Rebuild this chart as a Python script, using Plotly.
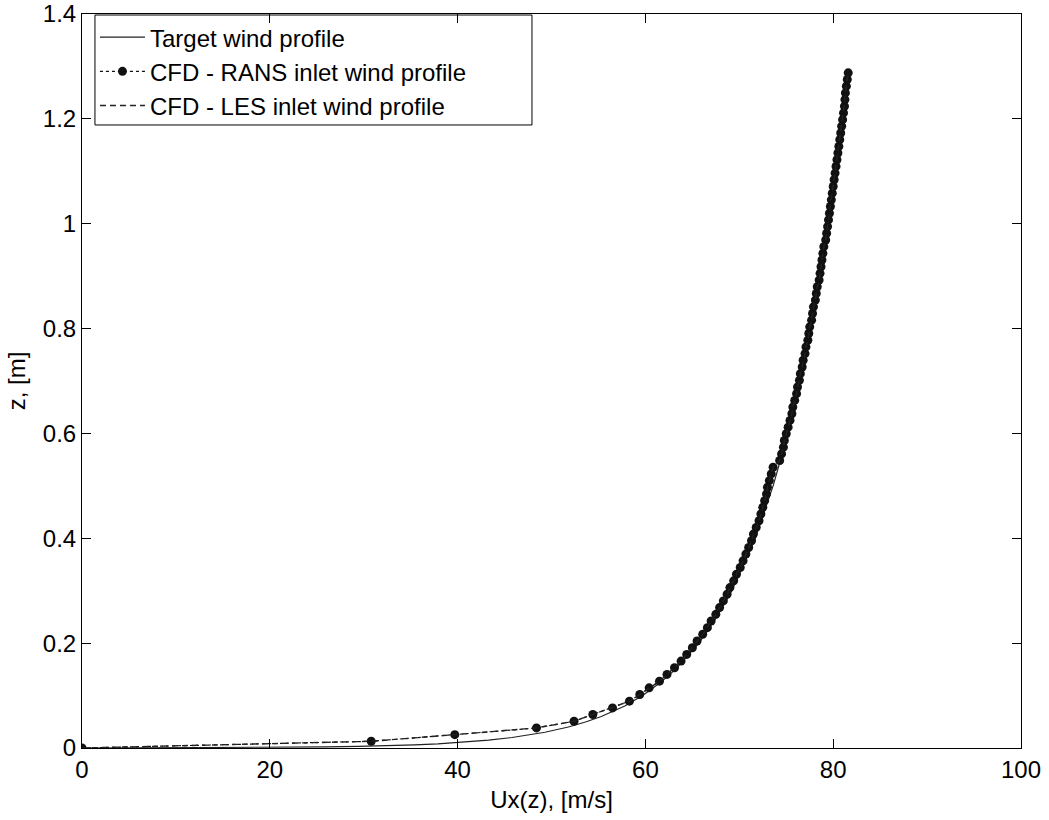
import plotly.graph_objects as go

# Target wind profile (solid line)
target_z = [0, 0.0002, 0.0005, 0.001, 0.002, 0.003, 0.004, 0.006, 0.008, 0.01, 0.015, 0.02,
            0.03, 0.04, 0.05, 0.06, 0.07, 0.08, 0.1, 0.125, 0.15, 0.2, 0.25, 0.3, 0.4, 0.5,
            0.6, 0.7, 0.8, 0.9, 1.0, 1.1, 1.2, 1.28]
target_u = [0, 6.0, 13.9, 19.9, 25.9, 29.4, 31.9, 35.4, 37.9, 39.8, 43.3, 45.8,
            49.3, 51.8, 53.7, 55.3, 56.6, 57.8, 59.7, 61.6, 63.2, 65.7, 67.6, 69.2, 71.7, 73.6,
            75.2, 76.5, 77.6, 78.7, 79.6, 80.4, 81.2, 81.7]

# CFD - RANS inlet wind profile (dots)
rans_z = [0, 0.0128, 0.0255, 0.0383, 0.051, 0.0638, 0.0765, 0.0893, 0.102, 0.1148,
          0.1275, 0.1403, 0.153, 0.1658, 0.1785, 0.1913, 0.204, 0.2168, 0.2295, 0.2423,
          0.255, 0.2678, 0.2805, 0.2933, 0.306, 0.3188, 0.3315, 0.3443, 0.357, 0.3698,
          0.3825, 0.3953, 0.408, 0.4208, 0.4335, 0.4463, 0.459, 0.4718, 0.4845, 0.4973,
          0.51, 0.5228, 0.5355, 0.5483, 0.561, 0.5738, 0.5865, 0.5993, 0.612, 0.6248,
          0.6375, 0.6503, 0.663, 0.6758, 0.6885, 0.7013, 0.714, 0.7268, 0.7395, 0.7523,
          0.765, 0.7778, 0.7905, 0.8033, 0.816, 0.8288, 0.8415, 0.8543, 0.867, 0.8798,
          0.8925, 0.9053, 0.918, 0.9308, 0.9435, 0.9563, 0.969, 0.9818, 0.9945, 1.0073,
          1.02, 1.0328, 1.0455, 1.0583, 1.071, 1.0838, 1.0965, 1.1093, 1.122, 1.1348,
          1.1475, 1.1603, 1.173, 1.1858, 1.1985, 1.2113, 1.224, 1.2368, 1.2495, 1.2623,
          1.275, 1.2878]
rans_u = [0, 30.8, 39.7, 48.4, 52.4, 54.4, 56.5, 58.3, 59.4, 60.4,
          61.5, 62.3, 63.1, 63.8, 64.4, 65.0, 65.5, 66.1, 66.6, 67.0,
          67.5, 67.9, 68.3, 68.7, 69.0, 69.4, 69.7, 70.1, 70.4, 70.7,
          71.0, 71.3, 71.5, 71.8, 72.1, 72.3, 72.5, 72.7, 72.9, 73.0,
          73.2, 73.4, 73.6, 74.3, 74.5, 74.7, 74.8, 75.0, 75.2, 75.4,
          75.6, 75.7, 75.9, 76.1, 76.2, 76.4, 76.5, 76.7, 76.8, 77.0,
          77.1, 77.3, 77.4, 77.5, 77.7, 77.8, 77.9, 78.1, 78.2, 78.3,
          78.5, 78.6, 78.7, 78.8, 78.9, 79.0, 79.2, 79.3, 79.4, 79.5,
          79.6, 79.7, 79.8, 79.9, 80.0, 80.1, 80.2, 80.3, 80.4, 80.5,
          80.6, 80.7, 80.8, 80.9, 81.0, 81.1, 81.2, 81.25, 81.3, 81.4,
          81.5, 81.6]

# CFD - LES inlet wind profile (dashed line)
les_z = rans_z
les_u = rans_u

x_ticks = [0, 20, 40, 60, 80, 100]
y_ticks = [0, 0.2, 0.4, 0.6, 0.8, 1.0, 1.2, 1.4]
y_tick_text = ["0", "0.2", "0.4", "0.6", "0.8", "1", "1.2", "1.4"]

FONT = "Liberation Sans"

fig = go.Figure()
fig.add_trace(go.Scatter(x=target_u, y=target_z, mode="lines",
                         name="Target wind profile",
                         line=dict(color="#222222", width=1.2)))
fig.add_trace(go.Scatter(x=rans_u, y=rans_z, mode="lines+markers",
                         name="CFD - RANS inlet wind profile",
                         line=dict(color="#111111", width=1.2, dash="dot"),
                         marker=dict(color="#111111", size=9, line=dict(width=0))))
fig.add_trace(go.Scatter(x=les_u, y=les_z, mode="lines",
                         name="CFD - LES inlet wind profile",
                         line=dict(color="#222222", width=1.4, dash="6px,4px")))

axis_common = dict(showline=True, linecolor="black", linewidth=1, mirror="ticks",
                   ticks="inside", ticklen=9, tickwidth=1, tickcolor="black",
                   showgrid=False, zeroline=False, automargin=False,
                   ticklabeloverflow="allow",
                   tickfont=dict(family=FONT, size=24, color="black"))

fig.update_xaxes(range=[0, 100], tickvals=x_ticks,
                 title=dict(text="Ux(z), [m/s]", font=dict(family=FONT, size=24, color="black"),
                            standoff=9),
                 **axis_common)
fig.update_yaxes(range=[0, 1.4], tickvals=y_ticks, ticktext=y_tick_text,
                 title=dict(text="z, [m]", font=dict(family=FONT, size=24, color="black"),
                            standoff=10),
                 **axis_common)

# legend frame (wider than plotly's auto-sized box, as in the reference)
fig.add_shape(type="rect", xref="paper", yref="paper",
              x0=0.0138, x1=0.4792, y0=0.8488, y1=0.9986,
              line=dict(color="black", width=1), fillcolor="white", layer="below")

fig.update_layout(
    width=1049, height=820,
    margin=dict(l=82, r=28, t=14, b=72),
    paper_bgcolor="white", plot_bgcolor="white",
    font=dict(family=FONT, size=24, color="black"),
    showlegend=True,
    legend=dict(x=0.0138, y=0.9986, xanchor="left", yanchor="top",
                bgcolor="rgba(0,0,0,0)", borderwidth=0,
                font=dict(family=FONT, size=24, color="black"),
                itemwidth=45, tracegroupgap=0),
)

fig.write_html("out.html", config={"displayModeBar": False},
               post_script="document.body.style.margin='0';")
